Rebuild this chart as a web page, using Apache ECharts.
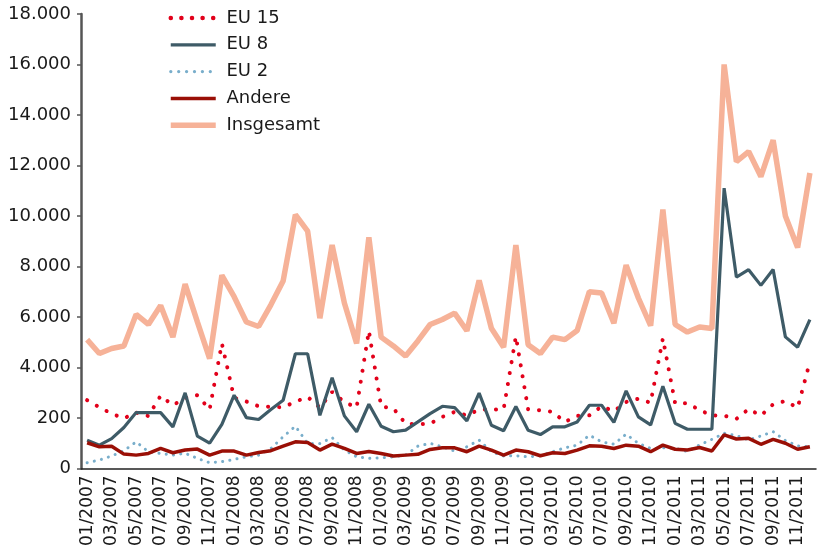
<!DOCTYPE html>
<html>
<head>
<meta charset="utf-8">
<script src="https://cdn.jsdelivr.net/npm/echarts@6/dist/echarts.min.js"></script>
<style>
  html, body { margin: 0; padding: 0; background: #fff; }
  #chart { width: 819px; height: 549px; }
</style>
</head>
<body>
<div id="chart"></div>
<script>
// Monate 01/2007 - 12/2011
const months = [
  "01/2007", "02/2007", "03/2007", "04/2007", "05/2007", "06/2007", "07/2007", "08/2007", "09/2007", "10/2007", "11/2007", "12/2007",
  "01/2008", "02/2008", "03/2008", "04/2008", "05/2008", "06/2008", "07/2008", "08/2008", "09/2008", "10/2008", "11/2008", "12/2008",
  "01/2009", "02/2009", "03/2009", "04/2009", "05/2009", "06/2009", "07/2009", "08/2009", "09/2009", "10/2009", "11/2009", "12/2009",
  "01/2010", "02/2010", "03/2010", "04/2010", "05/2010", "06/2010", "07/2010", "08/2010", "09/2010", "10/2010", "11/2010", "12/2010",
  "01/2011", "02/2011", "03/2011", "04/2011", "05/2011", "06/2011", "07/2011", "08/2011", "09/2011", "10/2011", "11/2011", "12/2011"
];

const eu15 = [
  2700, 2420, 2170, 1980, 2210, 2070, 2880, 2500, 2790, 2900, 2330, 4950,
  2800, 2650, 2460, 2440, 2420, 2640, 2830, 2410, 3030, 2630, 2410, 5450,
  2450, 2380, 1770, 1750, 1770, 2040, 2240, 2100, 2330, 2330, 2340, 5230,
  2340, 2300, 2240, 1840, 2080, 2100, 2460, 2260, 2630, 2760, 2600, 5150,
  2580, 2580, 2310, 2090, 2090, 1960, 2350, 2090, 2540, 2670, 2400, 4220
];

const eu8 = [
  1120, 920, 1180, 1620, 2210, 2210, 2210, 1645, 2990, 1280, 1000, 1740,
  2900, 2010, 1935, 2330, 2700, 4540, 4540, 2100, 3590, 2080, 1450, 2540,
  1670, 1450, 1515, 1840, 2170, 2460, 2410, 1880, 2980, 1710, 1490, 2450,
  1510, 1340, 1645, 1645, 1840, 2500, 2500, 1820, 3070, 2040, 1720, 3250,
  1785, 1550, 1550, 1550, 11100, 7580, 7870, 7250, 7880, 5210, 4800, 5890
];

const eu2 = [
  225, 330, 490, 700, 1050, 660, 590, 530, 600, 395, 225, 265,
  355, 460, 525, 790, 1250, 1670, 990, 990, 1220, 725, 460, 395,
  420, 460, 525, 880, 990, 855, 685, 855, 1120, 660, 490, 500,
  460, 500, 660, 815, 920, 1315, 1050, 960, 1355, 990, 790, 815,
  800, 665, 930, 1150, 1390, 1300, 1125, 1285, 1455, 1100, 890, 860
];

const andere = [
  1015, 855, 880, 565, 525, 590, 790, 620, 725, 765, 525, 685,
  685, 525, 630, 700, 880, 1050, 1025, 725, 960, 790, 590, 670,
  590, 490, 525, 555, 750, 815, 815, 660, 880, 725, 525, 725,
  660, 500, 620, 590, 725, 895, 880, 790, 920, 880, 660, 920,
  757, 730, 825, 690, 1325, 1165, 1190, 955, 1150, 995, 757, 860
];

const insgesamt = [
  5100, 4550, 4750, 4850, 6100, 5700, 6450, 5200, 7300, 5800, 4350, 7650,
  6800, 5800, 5620, 6480, 7420, 10050, 9400, 5950, 8850, 6550, 4950, 9150,
  5200, 4850, 4450, 5050, 5700, 5900, 6150, 5450, 7450, 5550, 4800, 8850,
  4900, 4550, 5200, 5100, 5460, 7000, 6950, 5750, 8050, 6750, 5650, 10250,
  5700, 5400, 5600, 5540, 16000, 12150, 12550, 11560, 13000, 10000, 8750, 11700
];

// Beschriftung der y-Achse (wie im Original, inkl. "200")
const yTickLabels = ["0", "200", "4.000", "6.000", "8.000", "10.000", "12.000", "14.000", "16.000", "18.000"];

const FONT = "DejaVu Sans";

const chart = echarts.init(document.getElementById("chart"));

chart.setOption({
  animation: false,
  grid: { left: 81, right: 3, top: 14, bottom: 80 },
  legend: {
    orient: "vertical",
    left: 163,
    top: 4,
    itemWidth: 45,
    itemHeight: 14,
    itemGap: 8.8,
    data: [
      { name: "EU 15", lineStyle: { width: 4.5, type: [0.1, 10.5], cap: "round" } },
      "EU 8",
      { name: "EU 2", lineStyle: { width: 3.2, type: [0.1, 7.8], cap: "round" } },
      "Andere",
      "Insgesamt",
    ],
    itemStyle: { opacity: 0 },
    lineStyle: { width: "inherit" },
    formatter: (name) => " " + name,
    textStyle: { fontFamily: FONT, fontSize: 18, color: "#1a1a1a" },
  },
  xAxis: {
    type: "category",
    data: months,
    boundaryGap: true,
    axisLine: { lineStyle: { color: "#222", width: 1.5 } },
    axisTick: { show: false },
    axisLabel: {
      interval: 1,
      rotate: 90,
      margin: 7,
      fontFamily: FONT,
      fontSize: 17,
      color: "#1a1a1a",
    },
  },
  yAxis: {
    type: "value",
    min: 0,
    max: 18000,
    interval: 2000,
    axisLine: { show: true, lineStyle: { color: "#555", width: 2.5 } },
    axisTick: { show: true, length: 4, lineStyle: { color: "#555", width: 1.5 } },
    splitLine: { show: false },
    axisLabel: {
      margin: 10,
      fontFamily: FONT,
      fontSize: 18,
      color: "#1a1a1a",
      formatter: (v) => yTickLabels[Math.round(v / 2000)],
    },
  },
  series: [
    {
      name: "EU 15",
      type: "line",
      symbol: "none",
      data: eu15,
      lineStyle: { color: "#e2001a", width: 4, type: [0.1, 11], cap: "round" },
      itemStyle: { color: "#e2001a" },
    },
    {
      name: "EU 8",
      type: "line",
      symbol: "none",
      data: eu8,
      lineStyle: { color: "#3e5b67", width: 3.2 },
      itemStyle: { color: "#3e5b67" },
    },
    {
      name: "EU 2",
      type: "line",
      symbol: "none",
      data: eu2,
      lineStyle: { color: "#79aecb", width: 3, type: [0.1, 7.2], cap: "round" },
      itemStyle: { color: "#79aecb" },
    },
    {
      name: "Andere",
      type: "line",
      symbol: "none",
      data: andere,
      lineStyle: { color: "#9a0f06", width: 3.5 },
      itemStyle: { color: "#9a0f06" },
    },
    {
      name: "Insgesamt",
      type: "line",
      symbol: "none",
      data: insgesamt,
      lineStyle: { color: "#f6b298", width: 5.5 },
      itemStyle: { color: "#f6b298" },
    },
  ],
});
</script>
</body>
</html>
